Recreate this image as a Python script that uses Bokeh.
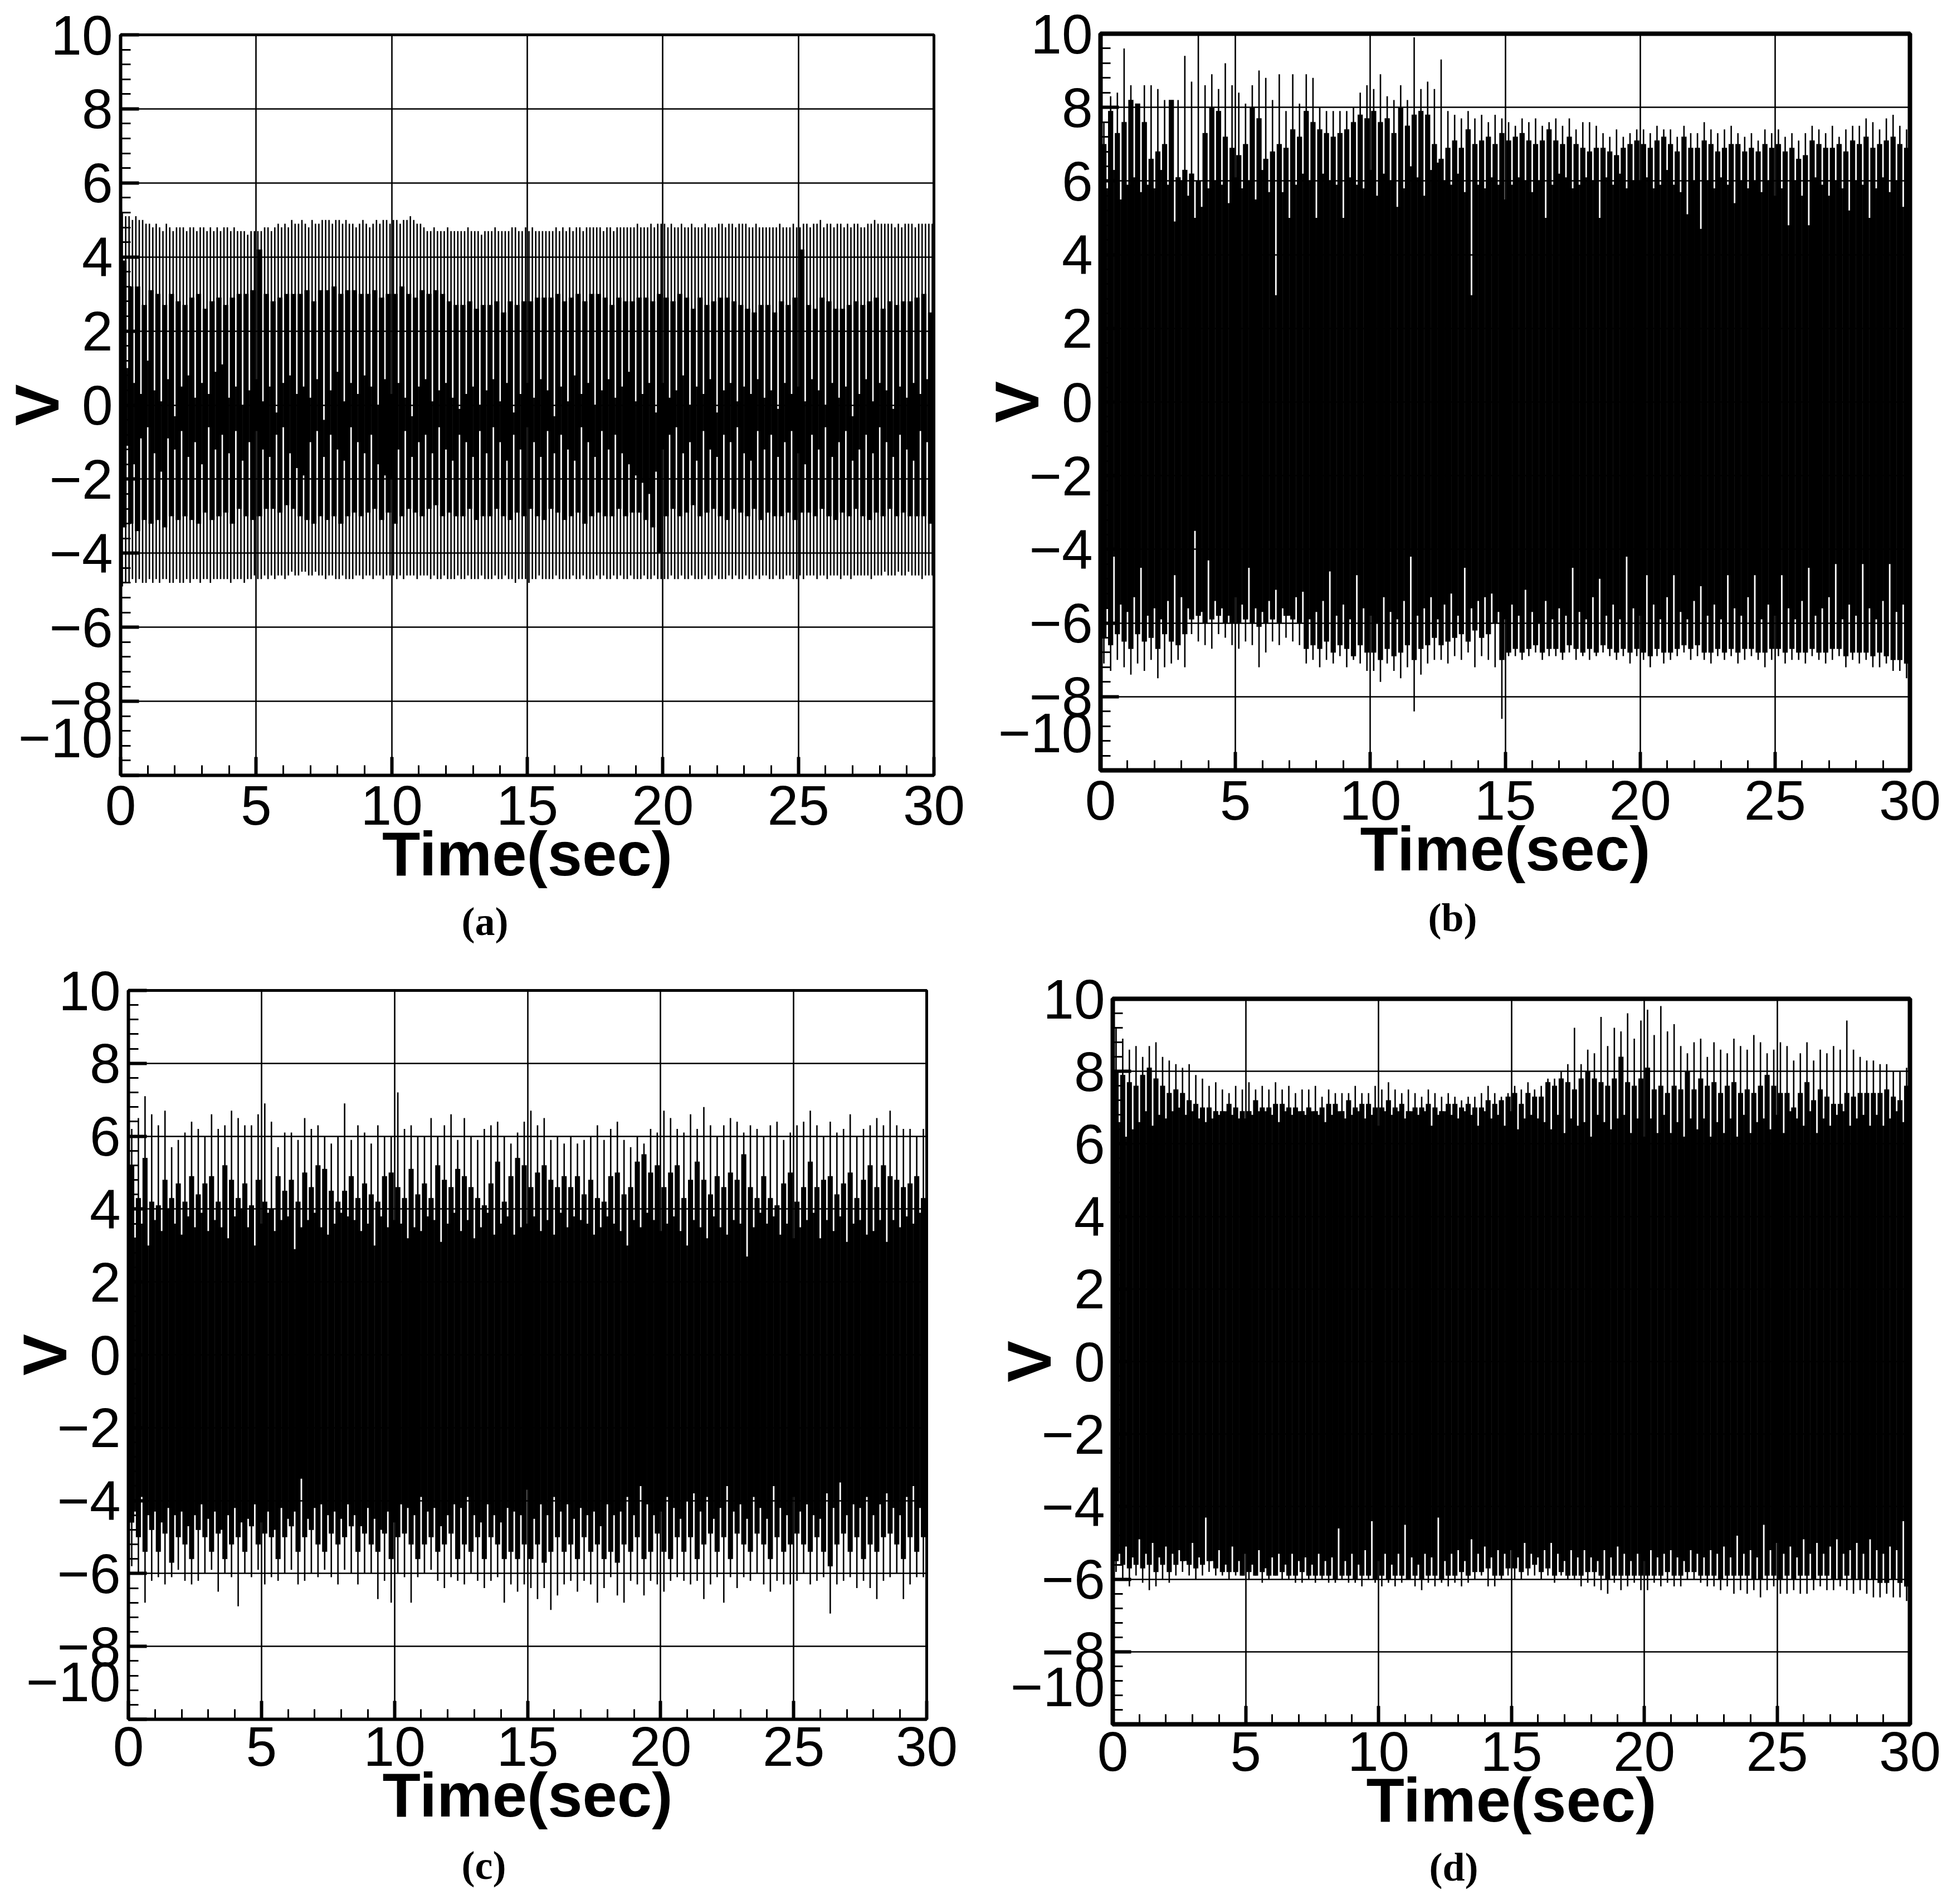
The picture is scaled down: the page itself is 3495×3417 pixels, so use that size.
from bokeh.embed import file_html
from bokeh.resources import INLINE
from bokeh.layouts import column, row
from bokeh.models import Range1d, SingleIntervalTicker, Title
from bokeh.plotting import figure

x_tick_values = [0, 5, 10, 15, 20, 25, 30]
y_tick_values = [-10, -8, -6, -4, -2, 0, 2, 4, 6, 8, 10]
y_tick_labels = ["\u221210\n ", "\u22128", "\u22126", "\u22124", "\u22122", "0", "2", "4", "6", "8", "10"]

# ---------- panel (a)
a_peak_hi = [5.2,5.1,5.1,5.0,5.1,5.0,5.0,4.9,4.9,4.8,4.9,4.8,4.7,4.9,4.8,4.7,4.8,4.8,4.8,4.7,
4.8,4.8,4.7,4.8,4.8,4.7,4.8,4.7,4.8,4.7,4.8,4.8,4.7,4.8,4.7,4.7,4.7,4.6,4.7,4.7,
4.7,4.7,4.8,4.8,4.7,4.8,4.9,4.8,4.9,4.8,5.0,4.9,4.9,5.0,4.9,4.8,5.0,4.9,4.9,5.0,
5.0,5.0,4.9,5.0,5.0,4.9,5.0,4.9,4.9,4.8,4.9,5.0,4.9,4.8,4.9,5.0,4.9,5.0,5.0,4.9,
5.0,5.0,4.9,5.0,5.0,5.1,5.0,4.9,4.9,4.8,4.7,4.7,4.8,4.7,4.7,4.7,4.8,4.7,4.7,4.7,
4.7,4.7,4.8,4.7,4.7,4.7,4.6,4.7,4.7,4.7,4.8,4.7,4.7,4.7,4.7,4.8,4.8,4.7,4.7,4.8,
4.7,4.8,4.7,4.7,4.7,4.7,4.7,4.7,4.8,4.7,4.8,4.7,4.8,4.7,4.8,4.8,4.7,4.8,4.8,4.8,
4.8,4.8,4.7,4.8,4.8,4.7,4.8,4.8,4.8,4.8,4.8,4.8,4.9,4.8,4.8,4.8,4.9,4.8,4.9,4.9,
4.9,4.8,4.9,4.8,4.8,4.9,4.8,4.8,4.9,4.8,4.8,4.8,4.9,4.8,4.8,4.8,4.9,4.9,4.8,4.9,
4.9,4.8,4.9,4.9,4.9,4.8,4.8,4.9,4.8,4.8,4.8,4.8,4.8,4.8,4.9,4.8,4.8,4.8,4.9,4.8,
4.8,4.9,4.9,4.8,4.9,4.9,5.0,4.8,4.9,4.9,4.8,4.9,4.9,4.8,4.9,4.8,4.9,4.9,4.8,4.8,
4.9,4.9,5.0,4.9,4.9,4.9,4.9,4.9,4.8,4.9,4.8,4.9,4.9,4.9,4.8,4.9,4.9,4.9,4.9,4.9]
a_peak_lo = [-4.9,-4.8,-4.8,-4.7,-4.8,-4.7,-4.8,-4.8,-4.7,-4.8,-4.7,-4.8,-4.7,-4.7,-4.8,-4.8,-4.7,-4.8,-4.8,-4.7,
-4.8,-4.7,-4.7,-4.8,-4.7,-4.7,-4.8,-4.7,-4.7,-4.7,-4.7,-4.7,-4.8,-4.7,-4.7,-4.7,-4.8,-4.7,-4.7,-4.6,
-4.7,-4.7,-4.6,-4.7,-4.6,-4.7,-4.6,-4.6,-4.7,-4.6,-4.5,-4.6,-4.6,-4.5,-4.5,-4.6,-4.6,-4.5,-4.6,-4.6,
-4.7,-4.6,-4.6,-4.7,-4.7,-4.6,-4.7,-4.7,-4.7,-4.6,-4.6,-4.7,-4.6,-4.6,-4.7,-4.6,-4.6,-4.7,-4.6,-4.6,
-4.6,-4.7,-4.6,-4.7,-4.6,-4.6,-4.6,-4.7,-4.6,-4.6,-4.6,-4.7,-4.6,-4.7,-4.7,-4.6,-4.7,-4.7,-4.7,-4.6,
-4.7,-4.7,-4.6,-4.7,-4.7,-4.7,-4.6,-4.7,-4.7,-4.7,-4.6,-4.7,-4.7,-4.6,-4.7,-4.7,-4.8,-4.7,-4.7,-4.7,
-4.8,-4.7,-4.7,-4.6,-4.7,-4.7,-4.7,-4.7,-4.6,-4.7,-4.7,-4.7,-4.7,-4.6,-4.7,-4.7,-4.6,-4.7,-4.7,-4.7,
-4.6,-4.7,-4.6,-4.7,-4.7,-4.6,-4.7,-4.6,-4.7,-4.7,-4.6,-4.7,-4.7,-4.7,-4.6,-4.7,-4.7,-4.6,-4.7,-4.7,
-4.7,-4.7,-4.6,-4.7,-4.7,-4.6,-4.7,-4.7,-4.6,-4.7,-4.7,-4.7,-4.6,-4.7,-4.7,-4.6,-4.7,-4.7,-4.7,-4.6,
-4.7,-4.6,-4.7,-4.7,-4.6,-4.7,-4.7,-4.6,-4.7,-4.6,-4.6,-4.7,-4.7,-4.6,-4.7,-4.7,-4.6,-4.6,-4.7,-4.7,
-4.6,-4.7,-4.6,-4.6,-4.6,-4.7,-4.6,-4.6,-4.7,-4.6,-4.6,-4.6,-4.7,-4.6,-4.6,-4.7,-4.6,-4.6,-4.6,-4.6,
-4.6,-4.7,-4.6,-4.6,-4.6,-4.5,-4.6,-4.6,-4.6,-4.5,-4.6,-4.6,-4.5,-4.6,-4.6,-4.6,-4.7,-4.6,-4.6,-4.6]
a_mass_hi = [3.9,3.2,3.2,2.7,3.1,3.0,2.7,3.0,2.8,2.7,2.9,3.0,2.6,2.8,2.9,2.7,2.9,3.0,3.0,3.1,
4.2,3.0,2.8,2.9,3.0,3.0,3.0,3.1,2.8,3.1,3.1,3.2,3.0,3.1,3.1,3.0,3.0,3.1,2.9,3.0,
3.0,3.2,3.0,2.9,3.1,3.0,3.1,3.0,2.8,2.7,2.7,2.8,2.6,2.7,2.7,2.8,2.5,2.8,2.7,2.8,
2.8,2.9,2.9,2.9,3.0,2.8,2.9,3.0,2.8,3.0,3.0,2.9,2.7,2.9,2.8,2.8,2.9,2.9,2.8,3.0,
2.9,2.8,3.0,2.9,2.6,2.9,2.7,2.8,2.9,2.9,2.8,2.7,2.6,2.5,2.7,2.7,2.5,2.8,2.7,2.9,
4.2,2.7,2.6,2.9,2.8,2.6,2.6,2.7,2.8,2.7,2.8,2.9,2.6,2.8,2.7,2.8,2.8,2.9,3.0,2.5]
a_mass_lo = [-3.3,-3.2,-3.4,-3.1,-3.2,-3.1,-3.3,-3.0,-3.1,-3.0,-3.1,-3.2,-2.9,-3.1,-3.0,-2.9,-3.2,-2.8,-3.0,-3.1,
-3.0,-2.8,-2.8,-2.9,-2.7,-2.8,-3.0,-3.1,-3.2,-3.0,-3.1,-3.0,-3.2,-3.0,-2.9,-3.0,-2.9,-2.8,-3.1,-2.9,
-3.2,-3.0,-2.8,-2.9,-3.0,-2.8,-2.7,-3.0,-2.9,-3.0,-3.0,-2.8,-3.1,-3.0,-3.0,-2.8,-3.0,-3.1,-2.9,-3.0,
-2.8,-3.0,-3.1,-2.8,-2.9,-3.1,-3.0,-2.9,-3.2,-3.0,-2.9,-3.0,-3.0,-2.8,-3.0,-2.9,-2.9,-3.1,-3.3,-4.0,
-3.0,-2.8,-3.0,-2.9,-2.7,-3.0,-2.9,-2.8,-3.0,-3.1,-2.8,-2.9,-3.0,-2.8,-3.1,-2.9,-3.0,-3.0,-2.9,-3.1,
-2.9,-2.9,-3.0,-2.8,-3.0,-3.1,-2.9,-3.0,-2.8,-3.0,-3.1,-2.9,-3.0,-2.8,-3.0,-2.9,-3.0,-3.0,-3.0,-3.2]
a_slit_hi = [1.8,1.0,0.6,0.3,1.2,0.4,0.1,0.7,-0.3,0.5,0.8,0.2,0.6,0.3,0.9,1.1,0.2,0.5,0.0,0.4,
0.7,0.1,0.5,-0.2,0.6,0.8,0.3,0.5,0.2,0.7,-0.4,0.4,0.9,0.1,0.6,0.3,0.8,0.5,0.0,0.7,
0.3,0.6,0.2,-0.3,0.5,0.7,0.1,0.4,0.6,0.2,-0.1,0.3,0.5,0.0,0.4,0.7,0.1,0.6,-0.2,0.3,
0.6,0.2,0.7,0.4,-0.3,0.5,0.1,0.8,0.3,0.6,0.0,0.4,0.7,0.2,0.5,0.9,0.1,0.3,0.6,-0.2,
0.6,0.2,0.4,0.8,0.0,0.5,0.3,0.7,-0.2,0.4,0.6,0.1,0.5,0.3,0.7,0.2,0.4,-0.1,0.6,0.3,
0.5,0.1,0.7,0.4,0.0,0.6,0.2,0.5,-0.3,0.3,0.7,0.1,0.6,0.4,-0.1,0.5,0.2,0.6,0.3,0.7]
a_slit_lo = [-0.8,-1.1,-1.6,-0.9,-0.6,-1.3,-1.8,-0.9,-1.2,-0.7,-1.4,-1.0,-1.6,-0.6,-1.2,-0.8,-1.3,-0.7,-1.5,-1.0,
-0.7,-1.2,-1.4,-0.8,-0.6,-1.3,-1.7,-1.9,-1.0,-0.7,-1.4,-0.8,-1.2,-1.5,-0.6,-1.0,-1.3,-0.8,-1.6,-1.9,
-2.0,-1.2,-0.7,-1.4,-1.0,-0.8,-1.3,-0.6,-1.2,-1.5,-0.8,-1.0,-1.4,-0.7,-1.3,-0.6,-1.0,-1.5,-0.8,-1.2,
-0.6,-1.0,-1.4,-0.7,-1.3,-0.8,-1.2,-1.5,-0.6,-1.0,-1.4,-0.7,-1.2,-0.8,-1.3,-1.6,-1.9,-2.1,-2.4,-1.8,
-1.2,-0.8,-0.6,-1.3,-1.0,-1.5,-0.7,-1.2,-1.4,-0.8,-1.0,-0.6,-1.3,-1.5,-0.7,-1.2,-0.8,-1.4,-1.0,-0.7,
-1.3,-1.6,-0.8,-1.2,-0.6,-1.4,-1.0,-0.7,-1.5,-1.2,-0.8,-1.3,-0.6,-1.0,-1.4,-0.8,-1.2,-1.5,-0.7,-1.0]

# ---------- panel (b)
b_peak_hi = [7.6,8.3,8.4,9.6,8.6,8.1,8.6,8.6,8.5,8.2,8.0,8.2,9.4,8.7,10.0,8.6,8.9,8.5,9.2,8.6,
8.4,8.1,8.6,9.0,8.8,8.2,8.9,7.9,8.9,8.1,8.9,8.8,8.0,7.9,7.9,7.9,7.9,8.0,8.4,8.6,
8.5,8.9,8.3,8.2,8.6,8.2,9.9,8.5,8.7,8.5,9.3,7.9,7.8,7.7,7.9,7.7,7.8,7.6,7.8,7.7,
7.6,7.5,7.7,7.6,7.7,7.5,7.6,7.7,7.5,7.7,7.4,7.6,7.6,7.5,7.3,7.2,7.4,7.2,7.3,7.4,
7.4,7.3,7.5,7.4,7.4,7.2,7.5,7.3,7.3,7.6,7.4,7.3,7.4,7.5,7.3,7.2,7.3,7.1,7.4,7.3,
7.4,7.2,7.3,7.1,7.3,7.5,7.4,7.3,7.5,7.2,7.4,7.5,7.5,7.7,7.6,7.4,7.7,7.8,7.5,7.4]
b_mass_hi = [7.0,7.9,7.3,7.6,8.2,8.1,7.6,6.6,6.8,7.0,8.2,6.1,6.3,6.2,6.0,7.3,8.0,7.9,7.2,6.9,
6.7,7.0,8.0,7.7,6.6,6.8,7.0,6.9,7.4,7.2,7.9,7.6,7.4,7.3,7.2,7.3,7.4,7.6,7.8,7.7,
7.9,7.6,7.7,7.3,8.0,7.5,7.8,7.9,7.8,7.0,6.6,6.9,7.1,6.9,7.4,7.0,7.1,7.2,7.0,7.3,
7.1,7.2,7.3,7.1,7.0,7.1,7.4,7.1,7.0,7.2,7.0,6.9,6.8,6.9,6.9,6.8,6.7,6.9,7.0,7.1,
7.0,6.9,7.1,7.2,7.0,6.8,7.2,6.9,6.9,7.1,7.0,6.8,6.9,7.0,7.0,6.8,6.9,6.8,7.0,6.9,
7.0,6.8,6.9,6.6,6.7,7.1,7.0,6.9,6.9,7.0,6.8,7.1,7.0,7.2,6.9,7.0,7.1,7.2,7.0,6.9]
b_slit_hi = [5.9,5.8,6.3,5.5,5.9,6.1,5.7,5.9,5.8,6.3,5.9,4.9,6.0,5.6,5.0,5.3,5.8,6.0,5.9,5.4,
6.1,5.8,6.0,5.5,6.3,5.7,2.9,5.7,5.0,5.9,6.2,6.0,5.0,6.2,6.0,5.9,5.0,6.1,5.9,5.8,
6.3,5.6,6.2,6.0,5.3,5.8,6.4,6.1,5.6,6.3,6.5,6.0,5.9,6.2,5.7,2.9,5.9,5.8,6.1,5.9,
5.5,5.9,6.1,6.0,5.7,6.0,5.0,5.9,6.2,6.1,5.8,5.9,6.1,6.0,5.0,6.1,5.9,6.2,5.8,6.0,
6.0,6.1,5.8,5.9,6.3,5.9,5.7,5.1,6.0,4.7,6.0,5.8,6.1,5.9,5.4,6.0,5.8,6.0,5.7,6.0,
5.6,5.8,4.8,6.0,5.6,4.8,6.1,5.9,5.6,6.0,5.8,5.2,6.0,5.9,5.0,5.8,6.1,5.7,6.0,5.3]
b_peak_lo = [-7.1,-7.3,-7.0,-7.2,-7.4,-7.1,-7.3,-7.0,-7.5,-7.2,-7.1,-7.0,-7.2,-6.3,-6.5,-6.6,-6.7,-6.3,-6.4,-6.6,
-6.7,-6.5,-6.6,-7.2,-6.8,-6.5,-6.6,-6.4,-6.5,-6.6,-7.1,-7.0,-7.2,-7.0,-7.1,-6.9,-7.2,-7.0,-7.1,-7.3,
-7.3,-7.6,-7.1,-7.3,-7.5,-7.2,-8.4,-7.4,-7.1,-7.0,-7.0,-7.1,-6.9,-7.0,-6.8,-7.2,-6.9,-7.0,-7.2,-8.6,
-6.9,-6.9,-7.0,-6.9,-6.8,-7.0,-6.9,-6.9,-7.0,-6.8,-7.0,-6.9,-7.0,-6.9,-6.8,-6.9,-7.0,-6.9,-7.1,-6.9,
-7.0,-7.2,-6.9,-7.1,-7.0,-6.9,-6.8,-7.0,-6.9,-7.0,-7.1,-6.9,-7.0,-6.9,-7.1,-7.0,-6.9,-7.0,-7.2,-7.0,
-6.9,-7.1,-7.0,-7.0,-7.1,-6.9,-7.0,-7.1,-7.0,-6.9,-7.2,-7.0,-7.1,-7.0,-7.2,-7.2,-7.1,-7.3,-7.3,-7.5]
b_mass_lo = [-6.4,-6.6,-6.3,-6.5,-6.7,-6.3,-6.5,-6.4,-6.7,-6.3,-6.5,-6.6,-6.3,-5.9,-5.8,-6.0,-5.9,-5.8,-6.0,-6.0,
-6.0,-5.9,-6.0,-6.1,-6.0,-5.9,-6.0,-5.8,-5.9,-6.0,-6.7,-6.6,-6.7,-6.5,-6.8,-6.6,-6.7,-6.9,-6.6,-6.8,
-6.8,-7.0,-6.7,-6.9,-6.8,-6.6,-7.0,-6.7,-6.6,-6.4,-6.6,-6.5,-6.4,-6.3,-6.5,-6.2,-6.4,-6.3,-6.0,-7.0,
-6.8,-6.7,-6.8,-6.7,-6.6,-6.8,-6.7,-6.7,-6.8,-6.6,-6.7,-6.8,-6.7,-6.8,-6.6,-6.7,-6.8,-6.7,-6.8,-6.7,
-6.8,-6.9,-6.7,-6.8,-6.8,-6.7,-6.6,-6.7,-6.6,-6.8,-6.8,-6.7,-6.8,-6.7,-6.8,-6.7,-6.7,-6.8,-6.8,-6.7,
-6.7,-6.8,-6.7,-6.8,-6.8,-6.7,-6.8,-6.8,-6.7,-6.7,-6.9,-6.8,-6.8,-6.8,-6.9,-6.8,-6.9,-7.0,-7.0,-7.1]
b_slit_lo = [-5.8,-5.6,-4.2,-5.5,-5.7,-5.3,-4.5,-5.8,-5.6,-5.9,-5.4,-4.7,-5.3,-5.6,-3.5,-5.7,-4.3,-5.4,-5.6,-5.8,
-5.3,-5.5,-4.5,-5.6,-5.7,-5.4,-5.1,-5.6,-5.8,-5.3,-5.15,-5.9,-5.7,-5.4,-4.6,-5.8,-5.5,-5.9,-4.7,-5.6,
-5.8,-6.0,-5.3,-5.7,-5.9,-5.4,-4.2,-5.8,-5.6,-5.3,-5.9,-5.5,-5.2,-5.8,-4.5,-5.6,-5.4,-5.3,-5.2,-5.7,
-5.9,-5.5,-5.8,-5.1,-5.7,-6.0,-5.4,-5.9,-5.6,-5.8,-4.5,-5.7,-5.9,-5.3,-4.8,-5.8,-5.5,-5.9,-4.2,-5.6,
-5.8,-4.7,-5.5,-5.9,-5.3,-4.7,-5.7,-5.9,-5.4,-5.0,-5.8,-5.5,-5.9,-4.7,-5.6,-5.8,-5.3,-4.7,-5.9,-5.5,
-5.8,-4.7,-5.6,-5.9,-5.4,-4.5,-5.8,-5.6,-5.3,-4.4,-5.9,-5.5,-5.8,-4.4,-5.6,-5.9,-5.4,-4.4,-5.7,-5.5]

# ---------- panel (c)
c_peak_hi = [6.2,6.5,7.1,6.6,6.3,6.7,5.7,5.9,6.1,6.4,6.2,6.0,6.6,6.2,6.3,6.7,6.5,6.3,6.3,6.6,
6.9,6.4,5.7,6.1,6.1,5.9,6.5,6.2,6.3,6.0,5.8,6.0,6.9,5.9,6.3,6.1,5.8,6.3,6.0,6.0,
7.2,6.2,6.3,6.0,6.0,6.5,6.0,6.3,6.6,5.9,6.5,6.0,5.9,6.2,6.3,6.4,6.0,5.8,6.1,6.4,
6.7,6.3,6.5,5.9,6.0,5.8,6.0,5.8,5.9,6.0,6.3,5.9,6.2,6.4,5.9,5.7,6.0,5.8,6.2,6.1,
6.7,6.5,6.2,6.1,6.6,6.2,6.8,6.3,6.0,6.3,6.5,6.4,6.1,6.3,6.2,6.0,6.3,6.4,5.9,6.1,
6.3,6.4,6.7,6.3,6.0,6.4,6.1,6.2,6.6,6.0,6.2,6.3,6.5,6.3,6.7,6.3,6.2,6.2,6.0,6.2]
c_mass_hi = [5.2,4.3,5.4,4.2,4.1,4.8,4.3,4.7,4.2,4.9,4.4,4.7,4.9,4.2,5.2,4.8,4.3,4.7,4.1,4.8,
4.2,4.0,4.9,4.5,4.8,4.2,5.0,4.6,5.2,5.1,4.5,4.2,4.5,4.9,4.3,4.7,4.4,4.2,4.9,5.0,
4.6,4.3,5.1,4.4,4.7,4.3,5.2,4.8,4.6,5.1,4.9,4.6,4.3,4.1,4.7,5.3,4.2,4.9,5.4,5.2,
4.6,5.0,5.2,4.8,4.6,4.9,4.6,4.9,4.4,4.8,4.3,4.2,4.9,5.0,4.4,4.6,5.3,5.5,5.0,5.2,
4.6,5.0,5.2,4.3,4.8,5.3,4.8,4.4,4.9,4.6,5.0,4.8,5.5,4.6,4.3,4.9,4.3,4.1,4.7,5.0,
4.2,4.6,5.3,4.6,4.8,4.9,4.4,4.7,5.0,4.3,4.8,5.2,4.6,5.2,4.9,4.8,4.6,4.7,4.9,4.3]
c_slit_hi = [3.9,3.2,3.6,3.0,3.7,3.4,4.0,3.6,3.3,3.8,3.5,3.9,3.4,3.7,3.5,3.2,3.8,4.0,3.5,3.0,
3.6,3.9,3.4,3.7,3.8,2.9,3.5,3.7,3.9,3.5,3.3,3.6,3.9,3.8,3.7,3.4,3.6,3.0,3.8,3.5,
3.7,3.6,3.2,3.5,3.4,3.8,3.7,3.1,3.6,3.9,3.4,3.7,3.2,3.5,3.9,3.3,3.6,3.8,3.3,3.5,
3.6,3.8,3.4,3.7,3.3,3.9,3.5,3.8,3.7,3.6,3.3,3.5,3.8,3.6,3.4,3.0,3.7,3.5,3.9,3.7,
3.4,3.6,3.8,3.4,3.0,3.7,3.5,3.2,3.8,3.5,3.3,3.7,3.6,2.7,3.5,3.9,3.6,3.8,3.3,3.6,
3.2,3.5,3.7,3.9,3.2,3.7,3.4,3.8,3.1,3.6,3.7,3.3,3.4,3.7,3.1,3.7,3.5,3.8,3.6,3.9]
c_peak_lo = [-5.8,-6.0,-6.8,-6.2,-6.1,-6.3,-6.1,-5.9,-6.2,-6.3,-6.2,-6.0,-5.9,-6.5,-6.0,-6.1,-6.9,-6.0,-6.1,-5.9,
-6.3,-6.1,-6.2,-6.0,-5.9,-6.3,-6.2,-6.0,-6.1,-5.9,-6.1,-6.3,-5.9,-6.0,-6.3,-6.0,-6.0,-6.7,-6.2,-6.8,
-6.0,-6.1,-6.8,-6.1,-6.0,-5.9,-6.2,-6.4,-6.1,-6.2,-6.3,-6.0,-6.2,-6.4,-6.2,-6.1,-6.8,-6.3,-6.5,-6.3,
-6.4,-6.7,-6.4,-7.0,-6.6,-6.3,-6.2,-6.5,-6.2,-6.3,-6.8,-6.4,-6.1,-6.6,-6.8,-6.2,-6.3,-6.6,-6.2,-6.3,
-6.5,-6.2,-6.1,-6.2,-6.3,-6.2,-6.7,-6.3,-6.1,-6.8,-6.1,-6.4,-6.1,-6.2,-6.0,-6.3,-6.5,-6.2,-6.3,-6.3,
-6.2,-6.0,-6.3,-6.2,-6.1,-7.1,-6.3,-6.2,-6.1,-6.4,-6.2,-6.4,-6.7,-6.2,-6.1,-6.0,-6.7,-6.3,-6.1,-6.1]
c_mass_lo = [-4.6,-5.0,-5.4,-4.8,-5.4,-4.9,-5.7,-5.0,-5.2,-5.6,-4.8,-5.0,-5.4,-4.9,-5.6,-5.2,-5.0,-5.4,-4.7,-5.2,
-4.9,-5.0,-5.6,-5.0,-4.7,-5.4,-5.0,-4.8,-5.2,-5.4,-4.9,-5.2,-5.0,-4.7,-5.4,-4.9,-5.2,-5.4,-4.9,-5.6,
-5.0,-4.9,-5.2,-5.6,-5.2,-5.0,-5.4,-5.2,-4.9,-5.6,-5.2,-5.4,-5.0,-5.6,-5.0,-5.2,-5.6,-5.4,-5.6,-5.2,
-5.6,-5.2,-5.7,-5.4,-5.0,-5.4,-5.2,-5.6,-5.0,-5.4,-5.2,-5.6,-5.4,-5.7,-5.2,-5.4,-5.0,-5.6,-5.4,-4.9,
-5.4,-5.6,-5.0,-5.4,-5.0,-5.6,-5.2,-4.9,-5.4,-5.0,-5.6,-4.9,-5.2,-5.4,-4.9,-5.2,-5.6,-5.0,-5.4,-5.2,
-4.9,-5.2,-5.4,-5.0,-5.4,-5.8,-5.2,-4.9,-5.4,-5.0,-5.6,-5.2,-5.4,-5.0,-4.9,-5.2,-5.6,-5.0,-5.4,-5.0]
c_slit_lo = [-3.9,-4.3,-3.9,-4.4,-4.3,-4.6,-4.2,-4.4,-4.3,-4.7,-4.4,-4.1,-4.5,-4.3,-4.8,-4.4,-4.2,-4.6,-4.5,-4.1,
-4.6,-4.3,-4.8,-4.2,-4.5,-4.3,-3.4,-4.5,-4.2,-4.1,-4.4,-4.3,-4.5,-4.1,-4.4,-4.7,-4.2,-4.5,-4.8,-4.3,
-4.6,-4.1,-4.2,-4.4,-3.9,-4.3,-4.2,-4.7,-4.4,-4.1,-4.2,-3.9,-4.4,-4.6,-4.1,-4.4,-4.6,-4.2,-4.3,-4.4,
-3.7,-4.5,-4.1,-4.4,-3.9,-4.3,-4.1,-4.5,-4.2,-4.4,-4.3,-4.7,-4.1,-4.4,-4.3,-3.9,-4.4,-3.6,-4.1,-4.4,
-4.3,-3.9,-4.2,-4.5,-4.0,-3.8,-4.3,-3.9,-4.5,-4.2,-3.6,-4.3,-4.1,-4.5,-3.9,-4.2,-4.5,-3.6,-4.2,-4.4,
-3.9,-4.3,-4.1,-4.4,-4.5,-3.8,-4.2,-3.5,-4.4,-4.1,-4.2,-3.9,-4.4,-4.1,-3.8,-4.2,-4.4,-3.9,-3.6,-4.2]

# ---------- panel (d)
d_peak_hi = [9.2,8.9,8.6,8.7,8.4,8.7,8.8,8.4,8.3,8.2,8.1,8.2,7.9,7.8,7.6,7.7,7.5,7.4,7.6,7.5,
7.7,7.5,7.6,7.5,7.7,7.5,7.6,7.4,7.5,7.5,7.6,7.3,7.5,7.4,7.4,7.4,7.6,7.4,7.4,7.6,
7.5,7.7,7.5,7.4,7.5,7.4,7.3,7.5,7.4,7.3,7.4,7.3,7.2,7.3,7.3,7.4,7.6,7.4,7.3,7.4,
7.6,7.5,7.7,7.5,7.6,7.8,7.8,8.0,8.2,9.2,8.2,8.6,8.5,9.5,8.7,9.2,9.1,9.6,8.9,9.4,
9.7,9.0,9.8,9.1,9.3,8.7,8.5,8.8,8.9,8.4,8.8,8.6,8.5,8.9,8.7,8.6,9.0,8.8,8.5,8.6,
8.8,8.7,8.3,8.5,8.8,8.3,8.6,8.5,8.7,8.6,9.4,8.6,8.4,8.3,8.3,8.2,8.2,8.0,8.0,8.1]
d_mass_hi = [8.0,7.9,7.7,7.6,7.9,8.1,7.8,7.6,7.4,7.5,7.4,7.2,7.1,7.0,7.0,6.9,6.9,7.1,7.0,6.9,
6.9,7.2,7.0,7.0,7.1,7.1,7.0,7.0,6.9,7.0,6.9,7.0,7.1,7.1,6.9,7.2,7.0,7.1,7.1,7.0,
7.0,7.2,7.0,7.1,6.9,7.0,7.0,7.1,7.0,6.9,7.1,7.1,7.0,7.1,7.0,7.0,7.2,7.1,7.2,7.3,
7.4,7.1,7.4,7.3,7.3,7.7,7.6,7.8,7.7,7.5,7.8,8.0,7.8,7.7,7.6,7.8,8.4,7.7,7.6,7.8,
8.1,7.5,7.6,7.4,7.6,7.5,8.0,7.5,7.8,7.6,7.7,7.4,7.6,7.7,7.4,7.5,7.4,7.6,7.9,7.6,
7.4,7.4,7.0,7.4,7.7,7.2,7.5,7.3,7.1,7.1,7.4,7.3,7.4,7.4,7.4,7.4,7.5,7.3,7.2,7.6]
d_slit_hi = [6.3,6.6,6.2,6.4,6.6,6.9,6.5,6.8,6.7,6.9,7.0,6.8,6.9,6.7,6.6,6.7,6.8,6.9,6.8,6.7,
6.7,6.8,6.9,6.9,6.8,6.6,6.9,6.8,6.9,6.8,6.9,6.8,6.6,6.8,6.9,6.7,6.8,6.9,6.7,6.8,
6.5,6.9,6.8,6.9,6.7,6.9,6.8,6.9,6.5,6.8,6.9,6.8,6.7,6.9,6.8,6.5,6.9,6.7,6.8,6.5,
6.9,6.4,6.7,6.8,6.7,6.6,6.4,6.8,6.3,6.7,6.5,6.6,6.2,6.8,6.6,6.4,6.7,6.8,6.3,6.7,
6.2,6.7,6.3,6.8,6.3,6.6,6.2,6.7,6.4,6.7,6.2,6.6,6.3,6.7,6.2,6.8,6.3,6.6,6.7,6.4,
6.8,6.3,6.9,6.7,6.5,6.9,6.3,6.7,6.5,6.8,6.9,6.5,6.7,6.8,6.5,6.8,6.5,6.7,6.9,6.6]
d_peak_lo = [-5.8,-6.0,-6.2,-5.9,-6.1,-6.3,-6.2,-6.0,-6.1,-5.9,-5.8,-5.9,-6.0,-5.9,-5.8,-5.9,-5.9,-6.0,-5.9,-5.9,
-6.0,-5.9,-6.1,-6.0,-5.9,-6.0,-6.0,-6.1,-6.1,-6.0,-6.1,-6.0,-6.1,-6.1,-6.0,-6.1,-6.1,-6.2,-6.0,-6.1,
-6.2,-6.1,-6.2,-6.1,-6.0,-6.2,-6.3,-6.1,-6.2,-6.1,-6.2,-6.1,-6.2,-6.1,-6.0,-5.9,-6.2,-6.2,-6.0,-5.9,
-6.0,-6.0,-5.9,-5.9,-6.0,-5.9,-6.1,-5.9,-6.0,-6.0,-6.2,-6.1,-6.2,-6.3,-6.4,-6.1,-6.3,-6.2,-6.1,-6.3,
-6.3,-6.1,-6.2,-6.1,-6.2,-6.2,-6.0,-6.0,-6.1,-6.2,-6.2,-6.3,-6.2,-6.4,-6.3,-6.4,-6.3,-6.5,-6.3,-6.2,
-6.4,-6.4,-6.3,-6.4,-6.4,-6.3,-6.2,-6.3,-6.3,-6.2,-6.3,-6.4,-6.3,-6.4,-6.5,-6.5,-6.4,-6.5,-6.5,-6.6]
d_mass_lo = [-5.5,-5.6,-5.7,-5.6,-5.7,-5.6,-5.8,-5.6,-5.8,-5.6,-5.5,-5.6,-5.7,-5.6,-5.5,-5.7,-5.8,-5.8,-5.8,-5.9,
-5.8,-5.9,-5.8,-5.9,-5.9,-5.8,-5.9,-5.9,-5.8,-5.9,-5.9,-5.9,-5.9,-6.0,-5.9,-5.9,-6.0,-5.9,-5.9,-6.0,
-5.9,-6.0,-5.9,-5.9,-6.0,-5.9,-6.0,-5.9,-5.9,-6.0,-5.9,-5.9,-5.8,-5.9,-5.8,-5.8,-5.7,-5.9,-5.9,-5.7,
-5.7,-5.8,-5.7,-5.6,-5.8,-5.7,-5.9,-5.8,-5.9,-5.9,-5.9,-5.8,-5.8,-5.9,-6.0,-5.9,-5.9,-5.9,-5.9,-5.9,
-5.9,-5.9,-5.9,-5.8,-5.9,-5.9,-5.8,-5.8,-5.9,-5.9,-5.9,-6.0,-5.9,-5.9,-5.9,-5.9,-6.0,-6.0,-5.9,-5.9,
-6.0,-5.9,-6.0,-5.9,-5.9,-6.0,-5.9,-5.9,-6.0,-6.0,-5.9,-6.0,-6.0,-6.0,-6.0,-6.1,-6.1,-6.0,-6.1,-6.2]
d_slit_lo = [-5.0,-5.3,-5.1,-5.4,-4.9,-5.3,-5.0,-5.4,-5.1,-5.3,-5.2,-5.5,-5.0,-5.4,-4.3,-5.5,-5.2,-5.6,-5.1,-5.5,
-5.3,-5.6,-5.2,-5.7,-5.4,-5.3,-5.6,-5.3,-5.5,-5.4,-5.6,-5.3,-5.5,-5.4,-4.6,-5.5,-5.3,-5.6,-5.2,-4.4,
-5.5,-5.3,-5.6,-5.3,-4.5,-5.4,-5.6,-5.3,-5.4,-4.3,-5.5,-5.3,-5.2,-5.5,-4.9,-5.3,-5.1,-5.4,-5.2,-5.3,
-5.2,-5.4,-5.0,-5.3,-5.4,-5.2,-5.0,-5.3,-5.5,-5.2,-5.4,-5.2,-5.4,-5.5,-5.2,-5.4,-5.1,-5.3,-5.5,-5.3,
-5.5,-5.2,-5.4,-5.3,-5.2,-5.4,-5.5,-5.2,-5.3,-5.4,-5.2,-5.3,-5.1,-5.4,-4.8,-5.3,-5.2,-5.4,-4.5,-5.2,
-5.0,-5.3,-5.1,-5.4,-4.9,-5.3,-5.0,-5.3,-5.1,-4.9,-5.3,-5.2,-5.0,-5.3,-4.9,-5.2,-5.3,-5.1,-5.2,-4.4]


def col_centres(values):
    return [30 * (i + 0.5) / len(values) for i in range(len(values))]


def col_edges(values):
    return [30 * i / len(values) for i in range(len(values))]


def panel(name, peak_hi, mass_hi, slit_hi, peak_lo, mass_lo, slit_lo,
          left, right, top, frame_w, frame_h, bottom, frame_line,
          tick_standoff, cap_offset, cap_standoff):
    p = figure(frame_width=frame_w, frame_height=frame_h,
               min_border_left=left, min_border_right=right,
               min_border_top=top, min_border_bottom=bottom,
               x_range=Range1d(0, 30), y_range=Range1d(-10, 10),
               output_backend="svg", toolbar_location=None,
               background_fill_color="white", border_fill_color="white")
    p.frame_align = False

    tm = col_centres(mass_hi)
    width = 30 / len(mass_hi)
    p.vbar(x=tm, top=mass_hi, bottom=mass_lo, width=width,
           fill_color="black", line_color="black", line_width=0.5)

    te = col_edges(slit_hi)
    p.segment(x0=te, y0=slit_hi, x1=te, y1=[9.9] * len(te), line_color="white", line_width=2.8)
    p.segment(x0=te, y0=slit_lo, x1=te, y1=[-9.9] * len(te), line_color="white", line_width=2.8)

    p.segment(x0=col_centres(peak_hi), y0=[0] * len(peak_hi), x1=col_centres(peak_hi), y1=peak_hi,
              line_color="black", line_width=2.6)
    p.segment(x0=col_centres(peak_lo), y0=[0] * len(peak_lo), x1=col_centres(peak_lo), y1=peak_lo,
              line_color="black", line_width=2.6)

    p.xaxis.ticker = SingleIntervalTicker(interval=5, num_minor_ticks=5)
    p.yaxis.ticker = SingleIntervalTicker(interval=2, num_minor_ticks=5)
    p.yaxis.major_label_overrides = dict(zip(y_tick_values, y_tick_labels))
    p.xaxis.major_label_overrides = {v: str(v) for v in x_tick_values}

    p.grid.level = "overlay"
    p.grid.grid_line_color = "black"
    p.grid.grid_line_width = 2.6
    p.outline_line_color = "black"
    p.outline_line_width = frame_line

    for ax in (p.xaxis[0], p.yaxis[0]):
        ax.axis_line_color = "black"
        ax.axis_line_width = 6
        ax.major_tick_in = 33
        ax.major_tick_out = 0
        ax.minor_tick_in = 18
        ax.minor_tick_out = 0
        ax.major_tick_line_color = "black"
        ax.major_tick_line_width = 6
        ax.minor_tick_line_color = "black"
        ax.minor_tick_line_width = 3
        ax.major_label_text_font = "Liberation Sans"
        ax.major_label_text_font_size = "100px"
        ax.major_label_text_color = "black"
        ax.axis_label_text_font = "Liberation Sans"
        ax.axis_label_text_font_style = "bold"
        ax.axis_label_text_font_size = "112px"
        ax.axis_label_text_color = "black"

    p.xaxis.axis_label = "Time(sec)"
    p.xaxis.major_label_standoff = tick_standoff
    p.xaxis.axis_label_standoff = -13
    p.yaxis.axis_label = "V"
    p.yaxis.major_label_standoff = 14
    p.yaxis.axis_label_standoff = -99

    p.add_layout(Title(text=name, align="left", offset=cap_offset, standoff=cap_standoff,
                       text_font="Liberation Serif", text_font_style="bold",
                       text_font_size="72px", text_color="black"), "below")
    return p


fa = panel("(a)", a_peak_hi, a_mass_hi, a_slit_hi, a_peak_lo, a_mass_lo, a_slit_lo,
           216, 74, 62, 1460, 1329, 319, 5, 19, 612, 29)
fb = panel("(b)", b_peak_hi, b_mass_hi, b_slit_hi, b_peak_lo, b_mass_lo, b_slit_lo,
           225, 59, 60, 1453, 1322, 328, 8, 19, 588, 33)
fc = panel("(c)", c_peak_hi, c_mass_hi, c_slit_hi, c_peak_lo, c_mass_lo, c_slit_lo,
           230, 87, 67, 1433, 1308, 315, 5, 14, 598, 38)
fd = panel("(d)", d_peak_hi, d_mass_hi, d_slit_hi, d_peak_lo, d_mass_lo, d_slit_lo,
           247, 59, 82, 1431, 1302, 306, 8, 14, 568, 27)

page = column(row(fa, fb), row(fc, fd))
open("out.html", "w").write(file_html(page, INLINE))
